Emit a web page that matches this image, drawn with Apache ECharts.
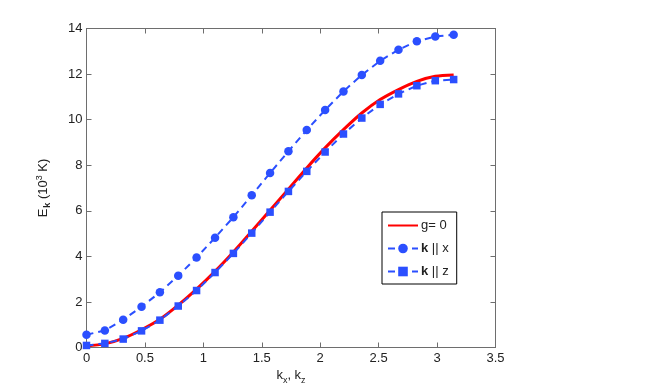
<!DOCTYPE html>
<html>
<head>
<meta charset="utf-8">
<script src="https://cdn.jsdelivr.net/npm/echarts@6/dist/echarts.min.js"></script>
<style>
html,body{margin:0;padding:0;background:#fff;}
#c{width:664px;height:392px;}
</style>
</head>
<body>
<div id="c"></div>
<script>
var kValues = [0, 0.157, 0.314, 0.471, 0.628, 0.785, 0.942, 1.100, 1.257, 1.414, 1.571,
  1.728, 1.885, 2.042, 2.199, 2.356, 2.513, 2.670, 2.827, 2.985, 3.142];
var g0Values = [0.07, 0.16, 0.40, 0.78, 1.24, 1.86, 2.56, 3.34, 4.19, 5.10, 6.02,
  6.95, 7.88, 8.76, 9.56, 10.29, 10.88, 11.32, 11.68, 11.90, 11.96];
var kxValues = [0.56, 0.75, 1.22, 1.79, 2.42, 3.15, 3.95, 4.82, 5.72, 6.68, 7.66,
  8.61, 9.55, 10.42, 11.24, 11.96, 12.58, 13.07, 13.44, 13.65, 13.73];
var kzValues = [0.09, 0.18, 0.37, 0.73, 1.20, 1.82, 2.50, 3.29, 4.13, 5.02, 5.94,
  6.85, 7.73, 8.58, 9.37, 10.07, 10.67, 11.13, 11.49, 11.71, 11.76];
var seriesNames = ['g= 0', 'k || x', 'k || z'];

function pairs(xs, ys) { return xs.map(function (x, i) { return [x, ys[i]]; }); }

var axisColor = '#6e6e6e';
var font = 'Liberation Sans, Arial, sans-serif';
var blue = '#2b4fff';

var chart = echarts.init(document.getElementById('c'), null, {renderer: 'canvas'});
chart.setOption({
  animation: false,
  backgroundColor: '#fff',
  grid: {left: 86.5, right: 168.5, top: 28.5, bottom: 44.5, containLabel: false},
  xAxis: [{
    type: 'value', min: 0, max: 3.5, interval: 0.5, position: 'bottom',
    name: '{t|k}{s|x}{t|, k}{s|z}', nameLocation: 'middle', nameGap: 19,
    nameTextStyle: {rich: {
      t: {fontFamily: font, fontSize: 13, color: '#222'},
      s: {fontFamily: font, fontSize: 9, color: '#222', padding: [9, 0, 0, 0]}
    }},
    axisLine: {show: true, onZero: false, lineStyle: {color: axisColor, width: 1}},
    axisTick: {show: true, inside: true, length: 5, lineStyle: {color: axisColor}},
    axisLabel: {color: '#222', fontFamily: font, fontSize: 13, margin: 4},
    splitLine: {show: false}
  }, {
    type: 'value', min: 0, max: 3.5, interval: 0.5, position: 'top',
    axisLine: {show: true, onZero: false, lineStyle: {color: axisColor, width: 1}},
    axisTick: {show: true, inside: true, length: 5, lineStyle: {color: axisColor}},
    axisLabel: {show: false}, splitLine: {show: false}
  }],
  yAxis: [{
    type: 'value', min: 0, max: 14, interval: 2, position: 'left',
    name: '{t|E}{sb|k}{t| (10}{sp|3}{t| K)}', nameLocation: 'middle', nameGap: 34, nameRotate: 90,
    nameTextStyle: {rich: {
      t: {fontFamily: font, fontSize: 13, color: '#222'},
      sb: {fontFamily: font, fontSize: 9, fontWeight: 'bold', color: '#222', padding: [9, 0, 0, 1]},
      sp: {fontFamily: font, fontSize: 9, color: '#222', padding: [0, 0, 8, 0]}
    }},
    axisLine: {show: true, onZero: false, lineStyle: {color: axisColor, width: 1}},
    axisTick: {show: true, inside: true, length: 5, lineStyle: {color: axisColor}},
    axisLabel: {color: '#222', fontFamily: font, fontSize: 13, margin: 4},
    splitLine: {show: false}
  }, {
    type: 'value', min: 0, max: 14, interval: 2, position: 'right',
    axisLine: {show: true, onZero: false, lineStyle: {color: axisColor, width: 1}},
    axisTick: {show: true, inside: true, length: 5, lineStyle: {color: axisColor}},
    axisLabel: {show: false}, splitLine: {show: false}
  }],
  legend: {
    left: 382, top: 212, orient: 'vertical',
    backgroundColor: '#fff', borderColor: '#000', borderWidth: 1,
    padding: [7, 8, 6, 5], itemGap: 10, itemWidth: 30, itemHeight: 12,
    data: [
      {name: seriesNames[0], itemStyle: {opacity: 0}},
      {name: seriesNames[1]},
      {name: seriesNames[2]}
    ],
    formatter: function (n) {
      if (n === 'g= 0') return '{t|g= 0}';
      if (n === 'k || x') return '{b|k}{t| || x}';
      return '{b|k}{t| || z}';
    },
    textStyle: {padding: [0, 0, 0, -2], rich: {
      t: {fontFamily: font, fontSize: 13, color: '#222'},
      b: {fontFamily: font, fontSize: 13, fontWeight: 'bold', color: '#222'}
    }}
  },
  series: [{
    name: seriesNames[1], type: 'line', data: pairs(kValues, kxValues),
    symbol: 'circle', symbolSize: 8.5, z: 3,
    lineStyle: {color: blue, width: 2, type: [7, 5]},
    itemStyle: {color: blue}
  }, {
    name: seriesNames[0], type: 'line', data: pairs(kValues, g0Values),
    symbol: 'none', smooth: 0.3, z: 2,
    lineStyle: {color: '#ff0000', width: 3},
    itemStyle: {color: '#ff0000'}
  }, {
    name: seriesNames[2], type: 'line', data: pairs(kValues, kzValues),
    symbol: 'rect', symbolSize: 7.5, z: 4,
    lineStyle: {color: blue, width: 2, type: [7, 5]},
    itemStyle: {color: blue}
  }]
});
</script>
</body>
</html>
